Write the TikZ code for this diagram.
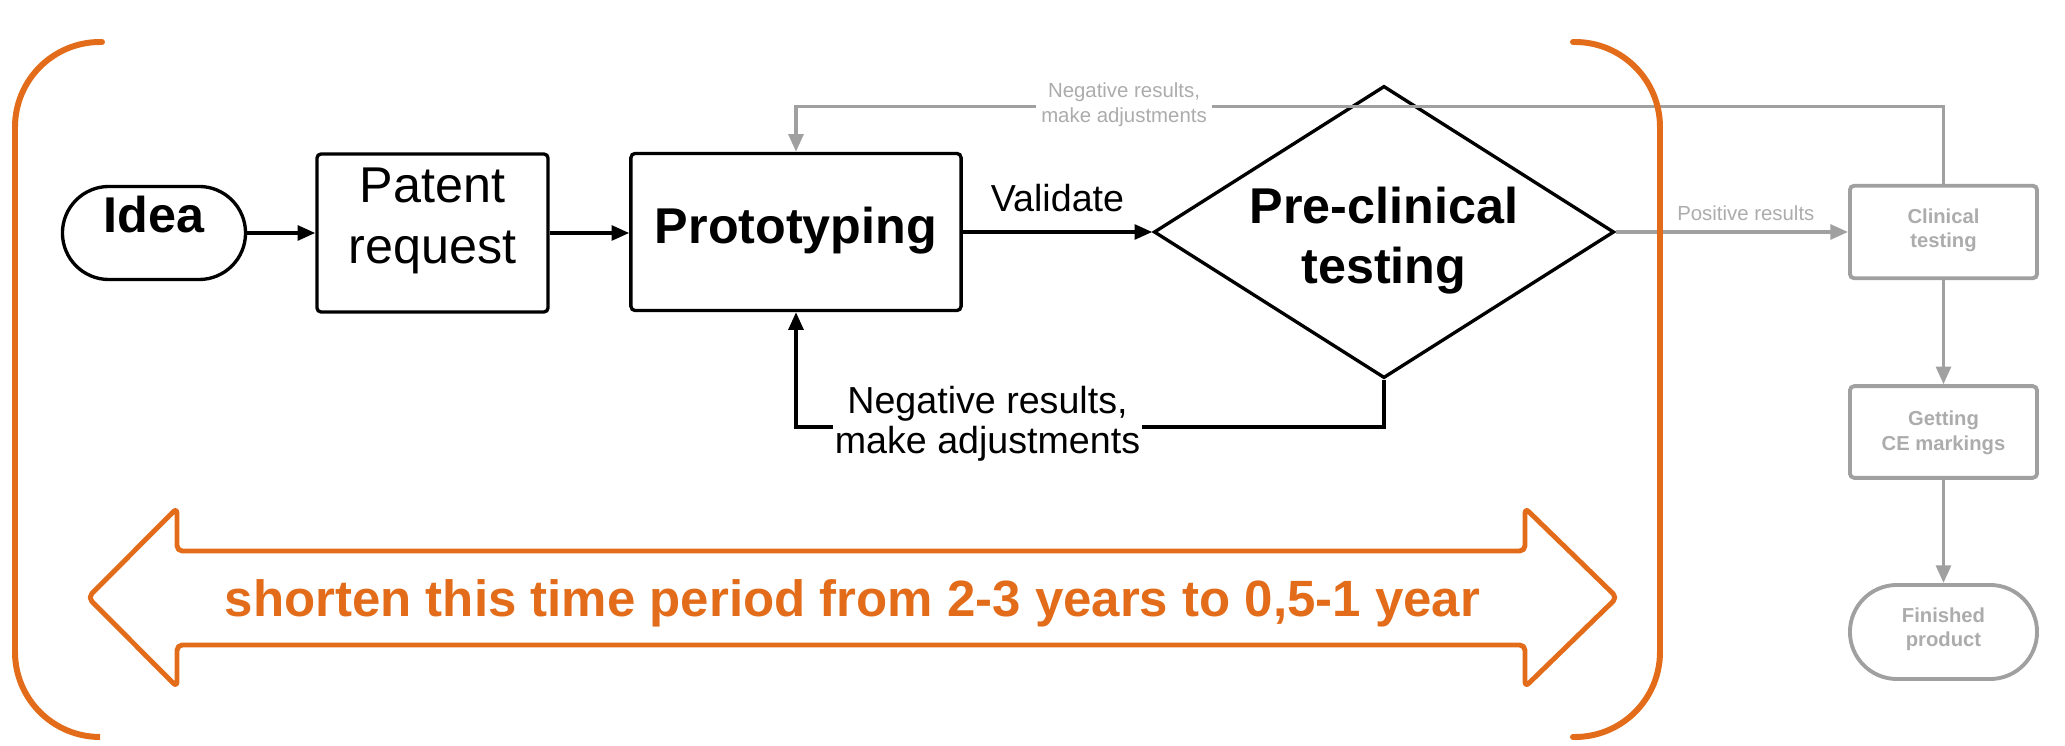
\documentclass[tikz,border=0pt]{standalone}
\usepackage{fontspec}
\setmainfont{Liberation Sans}
\usetikzlibrary{arrows.meta,shapes.geometric}
\definecolor{orng}{RGB}{226,108,26}
\definecolor{lgray}{RGB}{160,160,160}
\definecolor{tgray}{RGB}{172,172,172}
\begin{document}
\begin{tikzpicture}[x=0.01cm,y=-0.01cm,
  bigf/.style={font=\fontsize{14.3}{17.2}\selectfont},
  bigb/.style={font=\bfseries\fontsize{14.3}{17.2}\selectfont},
  midf/.style={font=\fontsize{10.7}{11.4}\selectfont},
  smallf/.style={font=\fontsize{5.8}{7}\selectfont},
  smallb/.style={font=\bfseries\fontsize{5.75}{6.9}\selectfont},
  blkbox/.style={draw=black, line width=0.95pt, rounded corners=1.2pt, inner sep=0pt, align=center},
  grybox/.style={draw=lgray, line width=1.1pt, rounded corners=1.2pt, inner sep=0pt, align=center, text=tgray, smallb,
    minimum width=1.87cm, text height=0.388cm},
  blk/.style={draw=black, line width=0.95pt, -{Triangle[length=5pt,width=4.2pt]}},
  gry/.style={draw=lgray, line width=0.95pt, -{Triangle[length=5pt,width=4.2pt]}},
  obr/.style={draw=orng, line width=1.7pt, line cap=round},
]
\useasboundingbox (0,0) rectangle (2065,746);

% main flow nodes
\node[blkbox, bigb, minimum width=1.83cm, minimum height=0.93cm, rounded corners=0.465cm,
      text height=0.36cm, text depth=0.36cm] (idea) at (154,233) {Idea};
\node[blkbox, bigf, minimum width=2.31cm, minimum height=1.58cm,
      text height=0.965cm, text depth=0.365cm] (patent) at (432.5,233) {Patent\\request};
\node[blkbox, bigb, minimum width=3.3cm, minimum height=1.57cm,
      text height=0.36cm, text depth=0.14cm] (proto) at (796,232) {Prototyping};
\node[diamond, draw=black, line width=0.95pt, inner sep=0pt, shape aspect=1.575,
      minimum width=4.6cm, minimum height=2.92cm, align=center, bigb,
      text height=1.03cm, text depth=0cm] (pre) at (1384,232) {Pre-clinical\\testing};

% grey nodes
\node[grybox, minimum height=0.925cm, text depth=0.082cm] (clin) at (1943.5,232) {Clinical\\testing};
\node[grybox, minimum height=0.916cm, text depth=0.027cm] (ce) at (1943.5,432) {Getting\\CE markings};
\node[grybox, minimum height=0.94cm, rounded corners=0.47cm, text depth=0.102cm] (fin) at (1943.5,632) {Finished\\product};

% black connectors
\draw[blk] (idea.east) -- (idea.east -| patent.west);
\draw[blk] (patent.east) -- (patent.east -| proto.west);
\draw[blk] (proto.east) -- node[midf, anchor=base, yshift=0.2cm] (val) {Validate} (pre.west);
\coordinate (fbc) at (796,427);
\draw[blk] (pre.south) |- (fbc) -- (proto.south);
\node[midf, fill=white, align=center, inner xsep=0.5pt, inner ysep=0pt] (neg1) at (987.5,424) {Negative results,\\make adjustments};

% grey connectors
\coordinate (gtc) at (796,106.7);
\draw[gry] (clin.north) |- (gtc) -- (proto.north);
\node[smallf, text=tgray, fill=white, align=center, inner xsep=1.5pt, inner ysep=0pt] (neg2) at (1124,105) {Negative results,\\make adjustments};
\draw[gry] (pre.east) -- node[smallf, text=tgray, anchor=base, pos=0.56, yshift=0.11cm] (pos) {Positive results} (clin.west);
\draw[gry] (clin.south) -- (ce.north);
\draw[gry] (ce.south) -- (fin.north);

% orange brackets
\draw[obr, rounded corners=0.85cm] (102,42) -- (15,42) -- (15,737) -- (100,737);
\draw[obr, rounded corners=0.85cm] (1573,42) -- (1660,42) -- (1660,737) -- (1573,737);

% orange double arrow
\draw[draw=orng, line width=1.4pt, line join=round, rounded corners=1.5pt]
  (88,597.5) -- (177,508) -- (177,551) -- (1525,551) -- (1525,508) -- (1617,597.5)
  -- (1525,687) -- (1525,645) -- (177,645) -- (177,687) -- cycle;
\node[font=\bfseries\fontsize{14.5}{17}\selectfont, text=orng, anchor=base, inner sep=0pt] (shorten) at (852.5,616.7)
  {shorten this time period from 2-3 years to 0,5-1 year};
\end{tikzpicture}
\end{document}
